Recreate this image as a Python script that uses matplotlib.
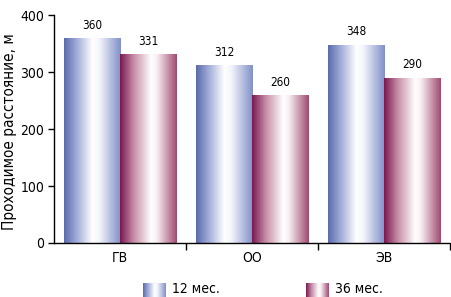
import matplotlib
matplotlib.use("Agg")
import matplotlib.pyplot as plt
import numpy as np
from matplotlib.colors import LinearSegmentedColormap
from matplotlib import font_manager

categories = ["ГВ", "ОО", "ЭВ"]
series_names = ["12 мес.", "36 мес."]
values_12 = [360, 312, 348]
values_36 = [331, 260, 290]
yticks = [0, 100, 200, 300, 400]

# pick a condensed family if one is installed
fam, stretch, narrow = "Liberation Sans", "normal", False
for f in font_manager.fontManager.ttflist:
    if "Narrow" in f.name and "Liberation" in f.name:
        fam, stretch, narrow = f.name, "normal", True
        break
if not narrow:
    for f in font_manager.fontManager.ttflist:
        if f.name == "DejaVu Sans" and str(f.stretch) in ("condensed", "semi-condensed", "75", "87"):
            fam, stretch, narrow = "DejaVu Sans", "condensed", True
            break
plt.rcParams['font.family'] = [fam, 'DejaVu Sans']
plt.rcParams['font.stretch'] = stretch
fs = 10 if narrow else 9.5
fs_small = 8.5 if narrow else 8

blue_cmap = LinearSegmentedColormap.from_list("b", [(0, "#5a6aac"), (0.25, "#aab4dc"), (0.5, "#ffffff"), (0.62, "#f4f5fb"), (1.0, "#8090c8")])
red_cmap = LinearSegmentedColormap.from_list("r", [(0, "#7a1850"), (0.25, "#c890a8"), (0.55, "#ffffff"), (0.65, "#f8eef2"), (1.0, "#a04a70")])

fig = plt.figure(figsize=(4.51, 2.97), dpi=100)
ax = fig.add_axes([54/451, 1 - 243/297, (450 - 54) / 451, 228/297])

x = np.arange(len(categories))
w = 0.425
bars1 = ax.bar(x - w/2, values_12, w, color="none", edgecolor="none")
bars2 = ax.bar(x + w/2, values_36, w, color="none", edgecolor="none")

grad = np.linspace(0, 1, 256).reshape(1, -1)

def fill(bars, cmap):
    for b in bars:
        x0, y0 = b.get_x(), b.get_y()
        ww, hh = b.get_width(), b.get_height()
        im = ax.imshow(grad, cmap=cmap, aspect="auto", extent=[x0, x0 + ww, y0, y0 + hh], zorder=2, interpolation="bilinear")
        im.set_clip_path(b)

fill(bars1, blue_cmap)
fill(bars2, red_cmap)

for bars, vals in ((bars1, values_12), (bars2, values_36)):
    for b, v in zip(bars, vals):
        ax.text(b.get_x() + b.get_width()/2, v + 11, str(v), ha="center", va="bottom", fontsize=fs_small)

ax.set_xlim(-0.5, 2.5)
ax.set_ylim(0, 400)
ax.set_yticks(yticks)
ax.set_yticklabels([str(t) for t in yticks], fontsize=fs)
ax.set_xticks(x)
ax.set_xticklabels(categories, fontsize=fs)
ax.set_xticks([0.5, 1.5, 2.5], minor=True)
ax.tick_params(axis="x", which="major", length=0, pad=6)
ax.tick_params(axis="x", which="minor", length=5, direction="out", width=1)
ax.tick_params(axis="y", length=4, width=1, pad=3)
for s in ["top", "right"]:
    ax.spines[s].set_visible(False)
ax.spines["left"].set_linewidth(1)
ax.spines["bottom"].set_linewidth(1)
ax.set_ylabel("Проходимое расстояние, м", fontsize=11, va="center")
ax.yaxis.set_label_coords(-0.112, 0.49)

# legend
legend_items = [(143 / 451, series_names[0], blue_cmap), (306 / 451, series_names[1], red_cmap)]
for lx, name, cmap in legend_items:
    lax = fig.add_axes([lx, 0.0, 23 / 451, 14 / 297])
    lax.imshow(grad, cmap=cmap, aspect="auto", interpolation="bilinear")
    lax.axis("off")
    fig.text(lx + 29 / 451, 8 / 297, name, fontsize=fs, va="center", ha="left")

fig.savefig("out.png", dpi=100)
